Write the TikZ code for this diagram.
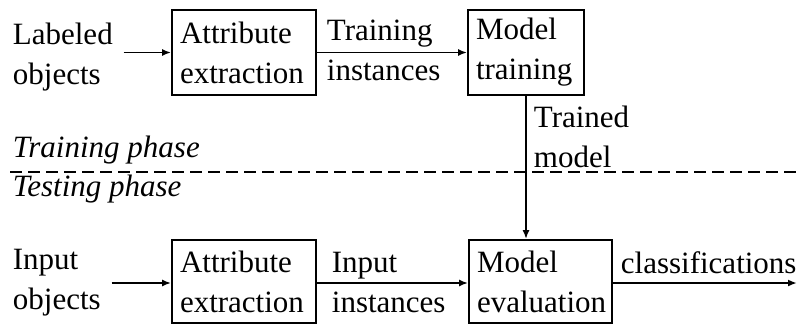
\documentclass[tikz,border=0pt]{standalone}
\usepackage{fontspec}
\setmainfont{Liberation Serif}
\usetikzlibrary{arrows.meta}

\begin{document}
\begin{tikzpicture}[x=1pt,y=1pt,line width=1.8pt,
    font=\fontsize{31}{40}\selectfont,
    box/.style={draw,align=left,inner xsep=8pt,inner ysep=0pt},
    txt/.style={align=left,inner sep=0pt},
    flow/.style={-{Latex[length=9pt,width=7pt]}}]
  \useasboundingbox (0,0) rectangle (799,-324);
  \draw
    (12,-57) node[txt,anchor=west] (labeled){Labeled\\objects}
    (244,-52.5) node[box,text width=128pt,minimum height=85pt] (extA){Attribute\\extraction}
    (526,-52.5) node[box,text width=100pt,minimum height=85pt] (train){Model\\training}
    (12,-283) node[txt,anchor=west] (input){Input\\objects}
    (244,-281.5) node[box,text width=128pt,minimum height=83pt] (extB){Attribute\\extraction}
    (540.5,-281.5) node[box,text width=127pt,minimum height=83pt] (eval){Model\\evaluation}
    (326,-50) node[txt,anchor=west] (traininst){Training\\instances}
    (331,-282) node[txt,anchor=west] (inputinst){Input\\instances}
    (533,-136.5) node[txt,anchor=west] (trained){Trained\\model}
    (620,-273) node[txt,anchor=base west] (classif){classifications}
    (12,-150) node[txt,anchor=west,font=\fontsize{31}{40}\selectfont\itshape] (trainph){Training phase}
    (12,-189) node[txt,anchor=west,font=\fontsize{31}{40}\selectfont\itshape] (testph){Testing phase};
  \coordinate (dashL) at (10,-172);
  \coordinate (dashR) at (799,-172);
  \coordinate (out) at (797,-283);
  \begin{scope}[flow]
    \draw ([xshift=10pt]labeled.east |- extA.west) -- (extA.west);
    \draw (extA.east) -- (train.west);
    \draw (train.south) -- (train.south |- eval.north);
    \draw ([xshift=10pt]input.east |- out) -- (extB.west |- out);
    \draw (extB.east |- out) -- (eval.west |- out);
    \draw (eval.east |- out) -- (out);
  \end{scope}
  \draw[dash pattern=on 12pt off 6pt] (dashL) -- (dashR);
\end{tikzpicture}
\end{document}
